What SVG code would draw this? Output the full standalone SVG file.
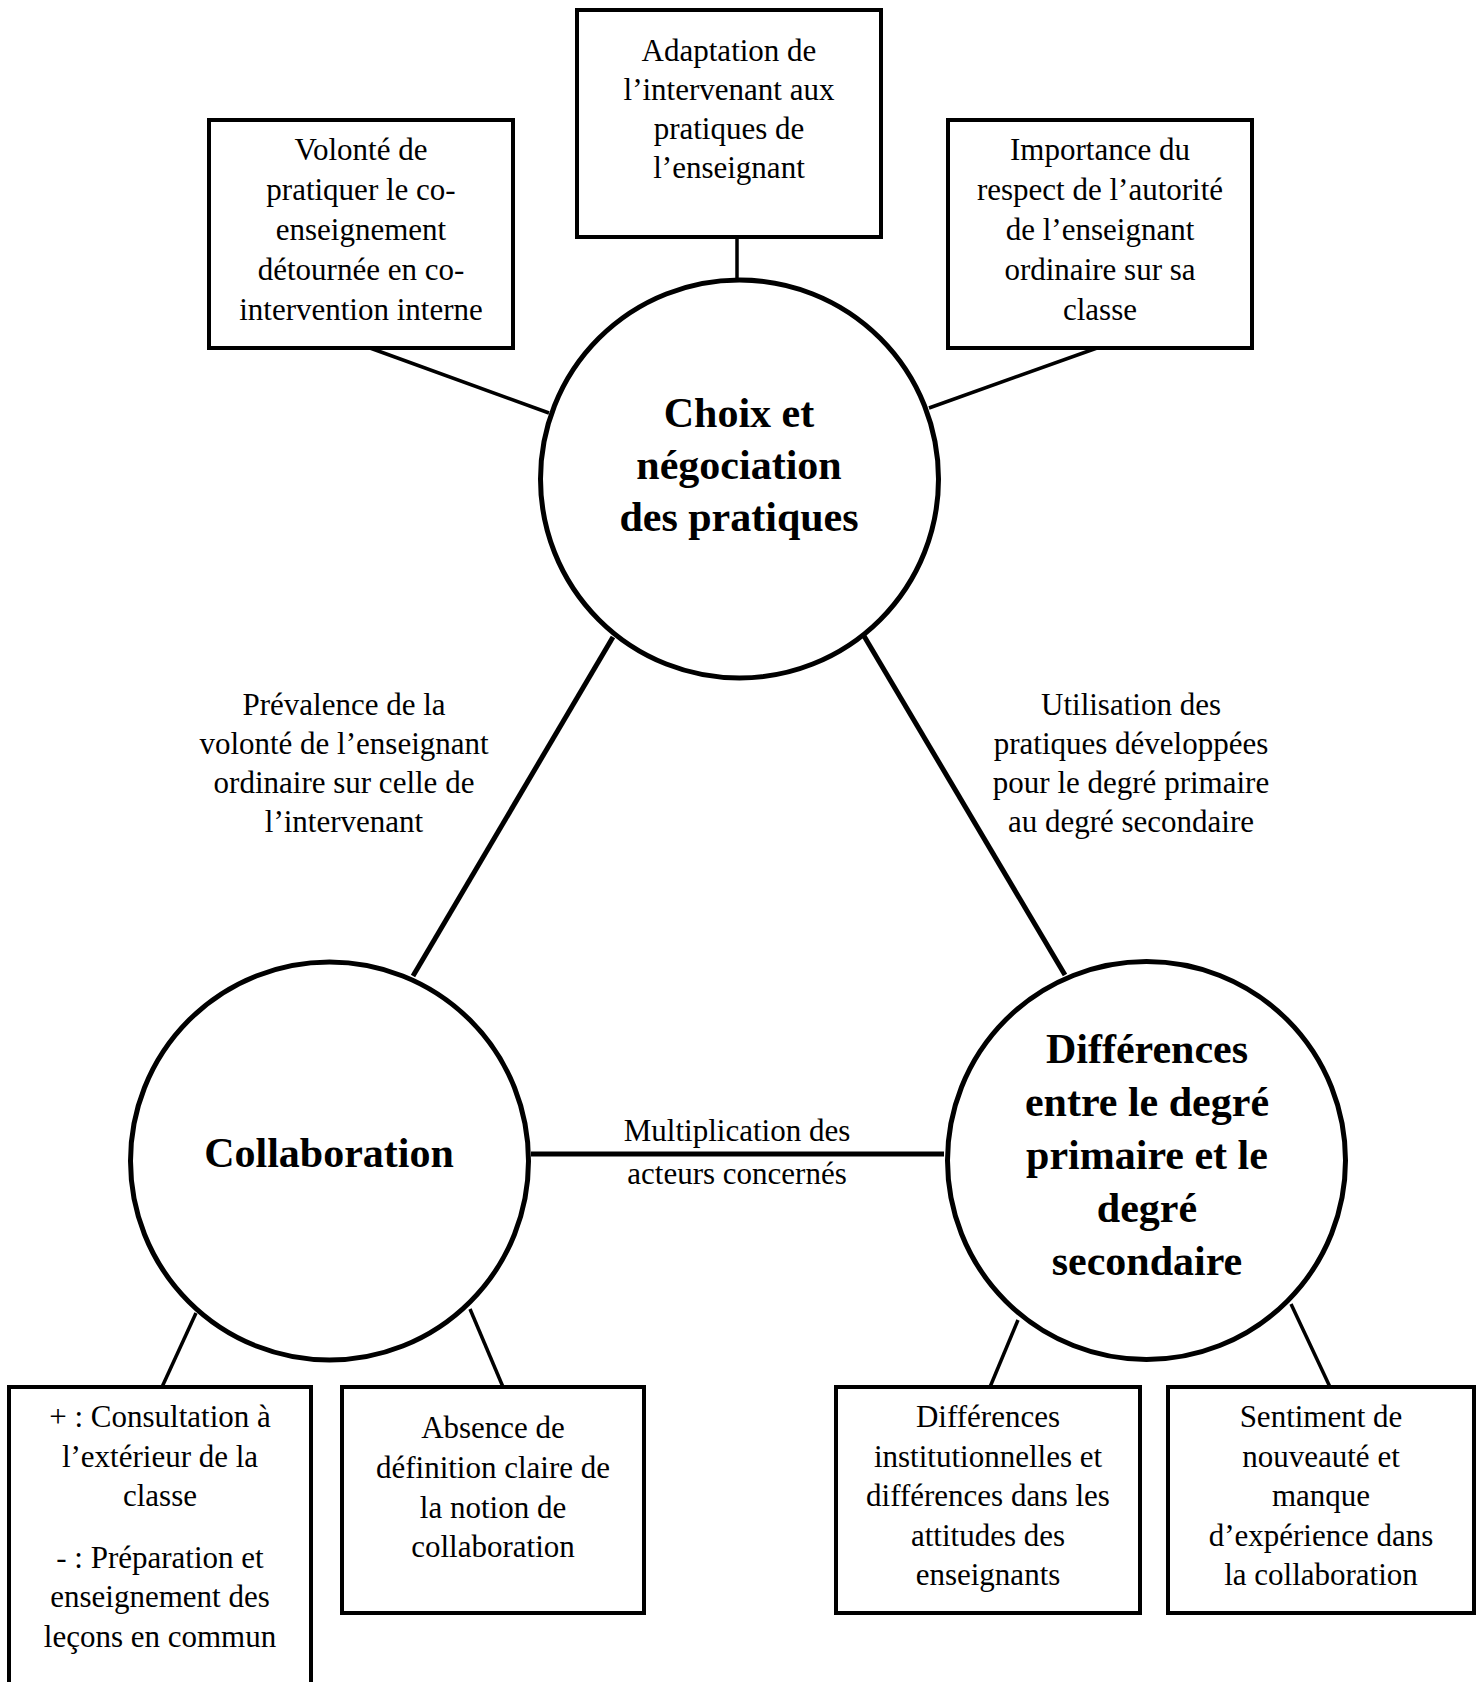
<svg xmlns="http://www.w3.org/2000/svg" width="1481" height="1682" viewBox="0 0 1481 1682">
<style>
.bg{fill:#fff}
.box{fill:#fff;stroke:#000;stroke-width:4}
.circ{fill:#fff;stroke:#000;stroke-width:5}
.t{font-family:"Liberation Serif","Times New Roman",serif;font-size:31px;fill:#000;text-anchor:middle}
.b{font-family:"Liberation Serif","Times New Roman",serif;font-size:42px;font-weight:bold;fill:#000;text-anchor:middle}
.thin{stroke:#000;stroke-width:3.5;fill:none}
.thick{stroke:#000;stroke-width:5;fill:none}
</style>
<rect class="bg" x="0" y="0" width="1481" height="1682"/>
<g id="connectors">
<line class="thin" x1="370" y1="348" x2="549" y2="413"/>
<line class="thin" x1="737" y1="237" x2="737" y2="280"/>
<line class="thin" x1="1097" y1="348" x2="929" y2="408"/>
<line class="thick" x1="613" y1="637" x2="413" y2="976"/>
<line class="thick" x1="864" y1="636" x2="1065" y2="975"/>
<line class="thick" x1="531" y1="1154" x2="944" y2="1154"/>
<line class="thin" x1="196" y1="1313" x2="162" y2="1387"/>
<line class="thin" x1="470" y1="1309" x2="503" y2="1387"/>
<line class="thin" x1="1018" y1="1320" x2="990" y2="1387"/>
<line class="thin" x1="1291" y1="1304" x2="1330" y2="1387"/>
</g>
<g id="edge-labels">
<text class="t" x="344"><tspan x="344" y="715">Prévalence de la</tspan><tspan x="344" y="754">volonté de l’enseignant</tspan><tspan x="344" y="793">ordinaire sur celle de</tspan><tspan x="344" y="832">l’intervenant</tspan></text>
<text class="t"><tspan x="1131" y="715">Utilisation des</tspan><tspan x="1131" y="754">pratiques développées</tspan><tspan x="1131" y="793">pour le degré primaire</tspan><tspan x="1131" y="832">au degré secondaire</tspan></text>
<text class="t"><tspan x="737" y="1141">Multiplication des</tspan><tspan x="737" y="1184">acteurs concernés</tspan></text>
</g>
<g id="node-choix">
<circle class="circ" cx="739.5" cy="479" r="199"/>
<text class="b"><tspan x="739" y="427">Choix et</tspan><tspan x="739" y="479">négociation</tspan><tspan x="739" y="531">des pratiques</tspan></text>
</g>
<g id="node-collaboration">
<circle class="circ" cx="329.5" cy="1161" r="199"/>
<text class="b" x="329" y="1167">Collaboration</text>
</g>
<g id="node-differences">
<circle class="circ" cx="1146.5" cy="1160.5" r="199"/>
<text class="b"><tspan x="1147" y="1063">Différences</tspan><tspan x="1147" y="1116">entre le degré</tspan><tspan x="1147" y="1169">primaire et le</tspan><tspan x="1147" y="1222">degré</tspan><tspan x="1147" y="1275">secondaire</tspan></text>
</g>
<g id="node-volonte">
<rect class="box" x="209" y="120" width="304" height="228"/>
<text class="t"><tspan x="361" y="160">Volonté de</tspan><tspan x="361" y="200">pratiquer le co-</tspan><tspan x="361" y="240">enseignement</tspan><tspan x="361" y="280">détournée en co-</tspan><tspan x="361" y="320">intervention interne</tspan></text>
</g>
<g id="node-adaptation">
<rect class="box" x="577" y="10" width="304" height="227"/>
<text class="t"><tspan x="729" y="61">Adaptation de</tspan><tspan x="729" y="100">l’intervenant aux</tspan><tspan x="729" y="139">pratiques de</tspan><tspan x="729" y="178">l’enseignant</tspan></text>
</g>
<g id="node-importance">
<rect class="box" x="948" y="120" width="304" height="228"/>
<text class="t"><tspan x="1100" y="160">Importance du</tspan><tspan x="1100" y="200">respect de l’autorité</tspan><tspan x="1100" y="240">de l’enseignant</tspan><tspan x="1100" y="280">ordinaire sur sa</tspan><tspan x="1100" y="320">classe</tspan></text>
</g>
<g id="node-consultation">
<rect class="box" x="9" y="1387" width="302" height="310"/>
<text class="t"><tspan x="160" y="1427">+ : Consultation à</tspan><tspan x="160" y="1467">l’extérieur de la</tspan><tspan x="160" y="1506">classe</tspan><tspan x="160" y="1568">- : Préparation et</tspan><tspan x="160" y="1607">enseignement des</tspan><tspan x="160" y="1647">leçons en commun</tspan></text>
</g>
<g id="node-absence">
<rect class="box" x="342" y="1387" width="302" height="226"/>
<text class="t"><tspan x="493" y="1438">Absence de</tspan><tspan x="493" y="1478">définition claire de</tspan><tspan x="493" y="1518">la notion de</tspan><tspan x="493" y="1557">collaboration</tspan></text>
</g>
<g id="node-institutionnelles">
<rect class="box" x="836" y="1387" width="304" height="226"/>
<text class="t"><tspan x="988" y="1427">Différences</tspan><tspan x="988" y="1467">institutionnelles et</tspan><tspan x="988" y="1506">différences dans les</tspan><tspan x="988" y="1546">attitudes des</tspan><tspan x="988" y="1585">enseignants</tspan></text>
</g>
<g id="node-sentiment">
<rect class="box" x="1168" y="1387" width="306" height="226"/>
<text class="t"><tspan x="1321" y="1427">Sentiment de</tspan><tspan x="1321" y="1467">nouveauté et</tspan><tspan x="1321" y="1506">manque</tspan><tspan x="1321" y="1546">d’expérience dans</tspan><tspan x="1321" y="1585">la collaboration</tspan></text>
</g>
</svg>
